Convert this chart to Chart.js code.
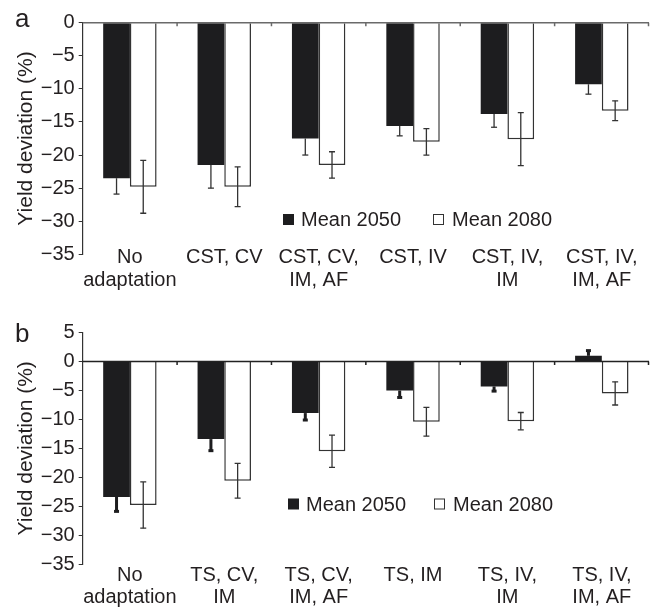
<!DOCTYPE html>
<html>
<head>
<meta charset="utf-8">
<script src="https://cdn.jsdelivr.net/npm/chart.js@4"></script>
<style>
  body { margin: 0; background: #fff; }
  #wrap { position: relative; width: 651px; height: 607px; }
  canvas { position: absolute; left: 0; }
  #chart-a { top: 0; }
  #chart-b { top: 300px; }
</style>
</head>
<body>
<div id="wrap">
  <canvas id="chart-a" width="651" height="300"></canvas>
  <canvas id="chart-b" width="651" height="307"></canvas>
</div>
<script>
const categoriesA = [['No', 'adaptation'], 'CST, CV', ['CST, CV,', 'IM, AF'], 'CST, IV', ['CST, IV,', 'IM'], ['CST, IV,', 'IM, AF']];
const categoriesB = [['No', 'adaptation'], ['TS, CV,', 'IM'], ['TS, CV,', 'IM, AF'], 'TS, IM', ['TS, IV,', 'IM'], ['TS, IV,', 'IM, AF']];
const seriesNames = ['Mean 2050', 'Mean 2080'];

const a2050 = [-23.5, -21.5, -17.5, -15.6, -13.8, -9.3];
const a2050Err = [2.4, 3.5, 2.5, 1.5, 2.0, 1.5];
const a2080 = [-24.8, -24.8, -21.5, -18.0, -17.6, -13.3];
const a2080Err = [4.0, 3.0, 2.0, 2.0, 4.0, 1.5];

const b2050 = [-23.4, -13.4, -8.9, -5.0, -4.3, 1.0];
const b2050Err = [2.5, 2.0, 1.2, 1.2, 0.8, 0.9];
const b2080 = [-24.8, -20.6, -15.5, -10.4, -10.3, -5.5];
const b2080Err = [4.0, 3.0, 2.8, 2.5, 1.5, 2.0];

const yTicksA = { min: -35, max: 0, step: 5 };
const yTicksB = { min: -35, max: 5, step: 5 };

const FONT = '"Liberation Sans", Arial, Helvetica, sans-serif';
const INK = '#231f20';

// error bars, zero line, legend, panel letter (and category labels when they sit over the axis end)
const extrasPlugin = {
    id: 'extras',
    afterDatasetsDraw(chart, args, opts) {
        const ctx = chart.ctx;
        const x = chart.scales.x;
        const y = chart.scales.y;
        const area = chart.chartArea;

        ctx.save();
        // error bars
        opts.errors.forEach((errs, i) => {
            const meta = chart.getDatasetMeta(i);
            const vals = chart.data.datasets[i].data;
            const st = opts.errStyle[i];
            ctx.strokeStyle = st.color;
            meta.data.forEach((bar, j) => {
                const v = vals[j];
                const e = errs[j];
                const sgn = v < 0 ? -1 : 1;
                const yEnd = y.getPixelForValue(v + sgn * e);
                const yStart = st.outwardOnly ? y.getPixelForValue(v) : y.getPixelForValue(v - sgn * e);
                ctx.lineWidth = st.width;
                ctx.beginPath();
                ctx.moveTo(bar.x, yStart);
                ctx.lineTo(bar.x, yEnd);
                ctx.stroke();
                ctx.lineWidth = st.capWidth;
                ctx.beginPath();
                ctx.moveTo(bar.x - st.cap, yEnd);
                ctx.lineTo(bar.x + st.cap, yEnd);
                if (!st.outwardOnly) {
                    ctx.moveTo(bar.x - st.cap, yStart);
                    ctx.lineTo(bar.x + st.cap, yStart);
                }
                ctx.stroke();
            });
        });

        // zero line with category ticks
        const y0 = y.getPixelForValue(0);
        ctx.strokeStyle = opts.zeroColor;
        ctx.lineWidth = 1.5;
        ctx.beginPath();
        ctx.moveTo(area.left, y0);
        ctx.lineTo(area.right, y0);
        const n = chart.data.labels.length;
        for (let j = 0; j < n; j++) {
            const bx = j < n - 1 ? (x.getPixelForValue(j) + x.getPixelForValue(j + 1)) / 2 : area.right - 0.5;
            ctx.moveTo(bx, y0);
            ctx.lineTo(bx, y0 + 3.5);
        }
        ctx.stroke();

        // category labels drawn by hand (panel a: they start above the axis end)
        if (opts.labelY) {
            ctx.font = '20px ' + FONT;
            ctx.fillStyle = INK;
            ctx.textAlign = 'center';
            ctx.textBaseline = 'middle';
            chart.data.labels.forEach((lab, j) => {
                const lines = Array.isArray(lab) ? lab : [lab];
                const px = x.getPixelForValue(j);
                lines.forEach((t, k) => ctx.fillText(t, px, opts.labelY + k * 23));
            });
            ctx.textAlign = 'left';
        }

        // legend
        const lg = opts.legend;
        ctx.font = '20px ' + FONT;
        ctx.textBaseline = 'middle';
        ctx.fillStyle = '#1d1d1f';
        ctx.fillRect(lg.x1, lg.y - 5.5, 11, 11);
        ctx.fillStyle = INK;
        ctx.fillText(seriesNames[0], lg.x1 + 18, lg.y + 1);
        ctx.strokeStyle = '#333';
        ctx.lineWidth = 1;
        ctx.strokeRect(lg.x2 + 0.5, lg.y - 5, 10, 10);
        ctx.fillText(seriesNames[1], lg.x2 + 19, lg.y + 1);

        // panel letter
        ctx.font = '26px ' + FONT;
        ctx.textBaseline = 'alphabetic';
        ctx.fillText(opts.letter, 15, opts.letterY);
        ctx.restore();
    }
};

function makeChart(id, labels, d2050, d2080, e2050, e2080, yt, cfg) {
    const ctx = document.getElementById(id).getContext('2d');
    return new Chart(ctx, {
        type: 'bar',
        data: {
            labels: labels,
            datasets: [
                {
                    label: seriesNames[0],
                    data: d2050,
                    backgroundColor: '#1d1d1f',
                    borderWidth: 0,
                    barPercentage: 1,
                    categoryPercentage: 0.566
                },
                {
                    label: seriesNames[1],
                    data: d2080,
                    backgroundColor: '#ffffff',
                    borderColor: '#333',
                    borderWidth: 1.5,
                    barPercentage: 1,
                    categoryPercentage: 0.566
                }
            ]
        },
        options: {
            responsive: false,
            animation: false,
            devicePixelRatio: 1,
            layout: { padding: { top: cfg.top, right: 2, left: 0, bottom: 0 } },
            scales: {
                x: {
                    grid: { display: false, drawTicks: false },
                    border: { display: false },
                    ticks: {
                        display: !cfg.labelY,
                        color: INK,
                        padding: 0,
                        maxRotation: 0,
                        autoSkip: false,
                        font: { family: FONT, size: 20, lineHeight: 1.13 }
                    },
                    afterFit(scale) { scale.height = cfg.xHeight; }
                },
                y: {
                    min: yt.min,
                    max: yt.max,
                    grid: { drawOnChartArea: false, drawTicks: true, tickLength: 4, color: '#333' },
                    border: { display: true, color: '#333', width: 1.2 },
                    ticks: {
                        stepSize: yt.step,
                        color: INK,
                        padding: 4,
                        font: { family: FONT, size: 20 },
                        callback: v => (v < 0 ? '\u2212' + Math.abs(v) : String(v))
                    },
                    title: {
                        display: true,
                        text: 'Yield deviation (%)',
                        color: INK,
                        padding: { top: 14, bottom: 0 },
                        font: { family: FONT, size: 21 }
                    },
                    afterFit(scale) { scale.width = 82.7; }
                }
            },
            plugins: {
                legend: { display: false },
                tooltip: { enabled: false },
                extras: {
                    errors: [e2050, e2080],
                    errStyle: cfg.errStyle,
                    zeroColor: cfg.zeroColor,
                    legend: cfg.legend,
                    letter: cfg.letter,
                    letterY: cfg.letterY,
                    labelY: cfg.labelY
                }
            }
        },
        plugins: [extrasPlugin]
    });
}

const thinErr = { color: '#333', width: 1.3, capWidth: 1.3, cap: 3, outwardOnly: false };

window.chartA = makeChart('chart-a', categoriesA, a2050, a2080, a2050Err, a2080Err, yTicksA, {
    top: 22.7, xHeight: 45.7, zeroColor: '#6a6a6a',
    errStyle: [Object.assign({}, thinErr, { outwardOnly: true }), thinErr],
    legend: { x1: 283, x2: 433, y: 219.5 },
    letter: 'a', letterY: 27, labelY: 257
});

window.chartB = makeChart('chart-b', categoriesB, b2050, b2080, b2050Err, b2080Err, yTicksB, {
    top: 32.7, xHeight: 43, zeroColor: '#222',
    errStyle: [{ color: '#1d1d1f', width: 3, capWidth: 3, cap: 2.5, outwardOnly: true }, thinErr],
    legend: { x1: 288, x2: 434, y: 204 },
    letter: 'b', letterY: 42
});
</script>
</body>
</html>
